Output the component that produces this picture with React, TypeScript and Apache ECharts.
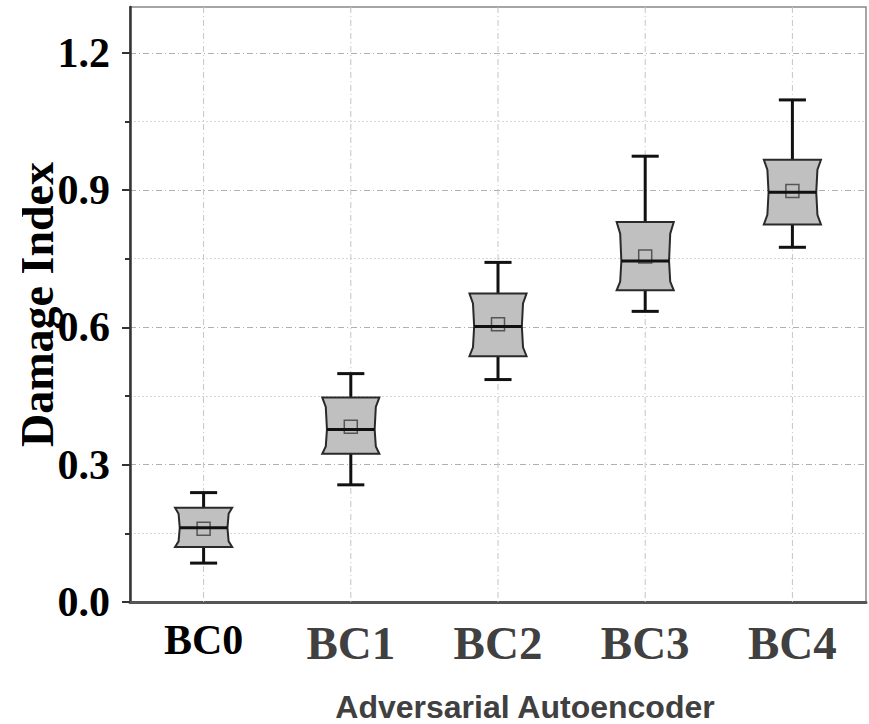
import React, { useEffect, useRef } from 'react';
import * as echarts from 'echarts';

const categories = ['BC0', 'BC1', 'BC2', 'BC3', 'BC4'];
const whiskerLow = [0.085, 0.256, 0.486, 0.635, 0.775];
const q1Values = [0.12, 0.324, 0.537, 0.681, 0.825];
const medians = [0.162, 0.377, 0.602, 0.745, 0.895];
const q3Values = [0.206, 0.447, 0.674, 0.83, 0.966];
const whiskerHigh = [0.239, 0.499, 0.742, 0.974, 1.097];
const means = [0.16, 0.383, 0.607, 0.755, 0.898];

const yTicks = [0, 0.3, 0.6, 0.9, 1.2];
const yMinorTicks = [0.15, 0.45, 0.75, 1.05];
const Y_MIN = 0;
const Y_MAX = 1.3;

const SERIF = "'Liberation Serif', 'Times New Roman', serif";
const SANS = "'Liberation Sans', Arial, sans-serif";

function renderBox(params: any, api: any) {
  const i = api.value(0);
  const yAt = (v: number) => api.coord([i, v])[1];
  const cx = api.coord([i, api.value(3)])[0];
  const band = api.size([1, 0])[0];
  const half = band * 0.194;
  const capHalf = band * 0.092;
  const ind = band * 0.032;
  const yLo = yAt(api.value(1));
  const yQ1 = yAt(api.value(2));
  const yMed = yAt(api.value(3));
  const yQ3 = yAt(api.value(4));
  const yHi = yAt(api.value(5));
  const yMean = yAt(api.value(6));
  const L = cx - half;
  const R = cx + half;
  const gridTop = yAt(Y_MAX);
  const gridBot = yAt(Y_MIN);
  const pts = [
    [L, yQ3],
    [R, yQ3],
    [R - ind * 0.75, yQ3 + (yMed - yQ3) * 0.3],
    [R - ind, yMed],
    [R - ind * 0.75, yMed + (yQ1 - yMed) * 0.7],
    [R, yQ1],
    [L, yQ1],
    [L + ind * 0.75, yMed + (yQ1 - yMed) * 0.7],
    [L + ind, yMed],
    [L + ind * 0.75, yQ3 + (yMed - yQ3) * 0.3],
  ];
  const black = { stroke: '#111', lineWidth: 3 };
  return {
    type: 'group',
    children: [
      {
        type: 'line',
        shape: { x1: cx, y1: gridTop, x2: cx, y2: gridBot },
        style: { stroke: '#c4c4c4', lineWidth: 1, lineDash: [6, 3, 1, 3] },
      },
      { type: 'line', shape: { x1: cx, y1: yHi, x2: cx, y2: yQ3 }, style: black },
      { type: 'line', shape: { x1: cx, y1: yQ1, x2: cx, y2: yLo }, style: black },
      { type: 'line', shape: { x1: cx - capHalf, y1: yHi, x2: cx + capHalf, y2: yHi }, style: black },
      { type: 'line', shape: { x1: cx - capHalf, y1: yLo, x2: cx + capHalf, y2: yLo }, style: black },
      {
        type: 'polygon',
        shape: { points: pts },
        style: { fill: '#c0c0c0', stroke: '#2a2a2a', lineWidth: 2 },
      },
      {
        type: 'rect',
        shape: { x: cx - 6.5, y: yMean - 6.5, width: 13, height: 13 },
        style: { fill: 'none', stroke: '#555', lineWidth: 1.5 },
      },
      {
        type: 'line',
        shape: { x1: L + ind, y1: yMed, x2: R - ind, y2: yMed },
        style: black,
      },
    ],
  };
}

export default function App() {
  const ref = useRef<HTMLDivElement>(null);
  useEffect(() => {
    document.body.style.margin = '0';
    const chart = echarts.init(ref.current!, null, { renderer: 'svg' });
    const data = categories.map((c, i) => [
      i,
      whiskerLow[i],
      q1Values[i],
      medians[i],
      q3Values[i],
      whiskerHigh[i],
      means[i],
    ]);
    chart.setOption({
      animation: false,
      backgroundColor: '#fff',
      grid: {
        left: 130,
        right: 3,
        top: 7,
        bottom: 122,
        containLabel: false,
        outerBoundsMode: 'none',
        show: true,
        borderColor: '#888',
        borderWidth: 1.5,
        backgroundColor: 'transparent',
      },
      xAxis: {
        type: 'category',
        data: categories,
        boundaryGap: true,
        axisLine: { lineStyle: { color: '#555', width: 3 } },
        axisTick: { alignWithLabel: true, length: 10, lineStyle: { color: '#333', width: 2 } },
        axisLabel: {
          margin: 17,
          formatter: (v: string, idx: number) => (idx === 0 ? `{a|${v}}` : `{b|${v}}`),
          rich: {
            a: { fontFamily: SERIF, fontWeight: 'bold', fontSize: 42, color: '#000' },
            b: { fontFamily: SERIF, fontWeight: 'bold', fontSize: 47, color: '#404040' },
          },
        },
        splitLine: { show: false },
        name: 'Adversarial Autoencoder',
        nameLocation: 'middle',
        nameGap: 91,
        nameTextStyle: {
          fontFamily: SANS,
          fontWeight: 'bold',
          fontSize: 32,
          lineHeight: 28,
          color: '#404040',
          padding: [0, 0, 0, 54],
        },
      },
      yAxis: [
        {
          type: 'value',
          min: Y_MIN,
          max: Y_MAX,
          interval: 0.3,
          position: 'left',
          name: 'Damage Index',
          nameLocation: 'middle',
          nameGap: 70,
          nameMoveOverlap: false,
          nameTextStyle: { fontFamily: SERIF, fontWeight: 'bold', fontSize: 46, color: '#000' },
          axisLine: { show: true, lineStyle: { color: '#333', width: 2.5 } },
          axisTick: { show: true, inside: false, length: 8, customValues: yTicks, lineStyle: { color: '#333', width: 2 } },
          axisLabel: {
            customValues: yTicks,
            formatter: (v: number) => v.toFixed(1),
            margin: 20,
            fontFamily: SERIF,
            fontWeight: 'bold',
            fontSize: 42,
            color: '#000',
          },
          splitLine: { show: true, lineStyle: { color: '#b0b0b0', width: 1, type: [6, 3, 1, 3] } },
        },
        {
          type: 'value',
          min: Y_MIN,
          max: Y_MAX,
          interval: 0.15,
          position: 'left',
          axisLine: { show: false },
          axisTick: { show: true, length: 5, customValues: yMinorTicks, lineStyle: { color: '#333', width: 2 } },
          axisLabel: { show: false },
          splitLine: { show: true, lineStyle: { color: '#d6d6d6', width: 1, type: [2, 2] } },
        },
      ],
      graphic: [
        {
          type: 'rect',
          left: 0,
          top: 140,
          z: 100,
          shape: { width: 22, height: 350 },
          style: { fill: '#fff' },
        },
      ],
      series: [
        {
          type: 'custom',
          renderItem: renderBox,
          data,
          encode: { x: 0, y: [1, 2, 3, 4, 5, 6] },
          yAxisIndex: 0,
          z: 5,
        },
      ],
    });
    return () => chart.dispose();
  }, []);
  return (
    <div
      ref={ref}
      style={{ position: 'absolute', left: 0, top: 0, width: 869, height: 724 }}
    />
  );
}
